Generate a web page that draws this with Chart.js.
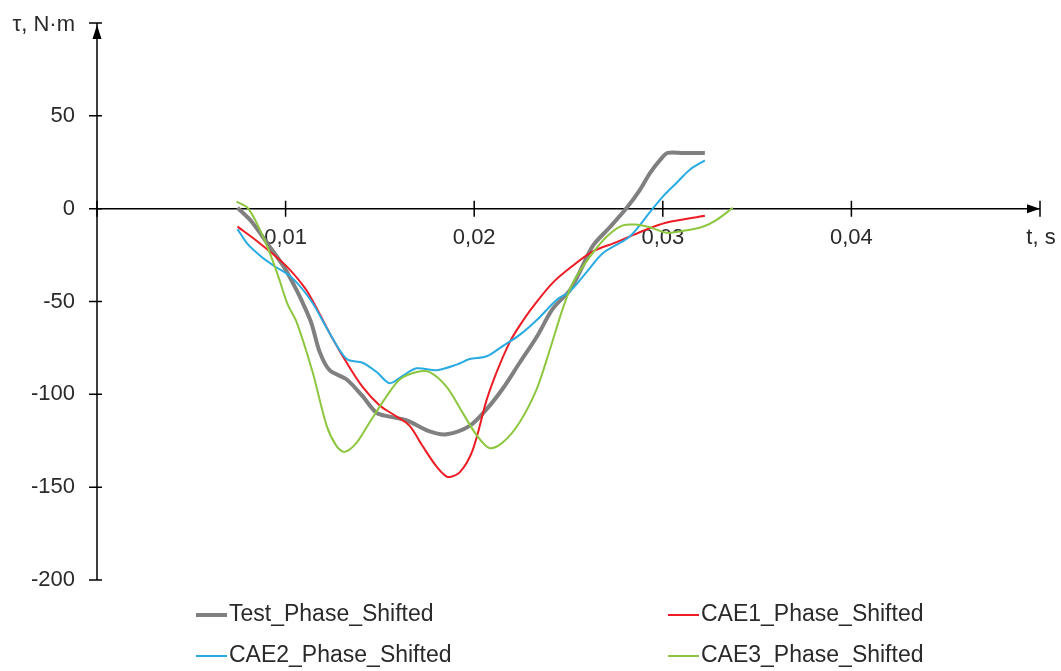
<!DOCTYPE html>
<html>
<head>
<meta charset="utf-8">
<script src="https://cdn.jsdelivr.net/npm/chart.js@4.4.1/dist/chart.umd.min.js"></script>
<style>
html,body{margin:0;padding:0;background:#fff;}
canvas{display:block;}
</style>
</head>
<body>
<canvas id="c" width="1061" height="671"></canvas>
<script>
// ---- data (time in s, torque in N·m) ----
const testT = [0.00745,0.00820,0.00905,0.00995,0.01064,0.01101,0.01138,0.01180,0.01233,0.01324,0.01408,0.01483,0.01552,0.01642,0.01764,0.01854,0.01976,0.02066,0.02151,0.02241,0.02332,0.02416,0.02507,0.02560,0.02629,0.02719,0.02809,0.02878,0.02931,0.02984,0.03026,0.03106,0.03223];
const testV = [0.5,-7,-19,-32,-45,-53,-62,-77,-87,-92,-101,-110,-112,-114,-120,-121.5,-117,-108,-97,-83,-69,-54,-44,-34,-20,-10,0.5,10,19,26,30,30,30];

const cae1T = [0.00745,0.00851,0.00995,0.01101,0.01154,0.01249,0.01324,0.01408,0.01499,0.01589,0.01658,0.01727,0.01801,0.01859,0.01923,0.01992,0.02066,0.02119,0.02188,0.02241,0.02310,0.02416,0.02507,0.02629,0.02756,0.02894,0.03021,0.03223];
const cae1V = [-9.7,-17.7,-30,-42.5,-51.6,-70,-83,-96,-106,-112,-117,-128,-139,-144.5,-142,-130,-103,-88,-72,-63,-53,-40,-32,-23,-18,-12,-7.5,-3.8];

const cae2T = [0.00745,0.00798,0.00873,0.00942,0.01032,0.01138,0.01233,0.01324,0.01408,0.01483,0.01552,0.01621,0.01695,0.01801,0.01907,0.01976,0.02066,0.02151,0.02241,0.02332,0.02438,0.02507,0.02597,0.02682,0.02825,0.02931,0.03000,0.03074,0.03143,0.03223];
const cae2V = [-11,-19,-26,-31,-37,-50,-67,-81,-83,-88,-94,-90,-86,-87,-84,-81,-79.5,-74,-68,-60,-49,-44.6,-34,-24,-15,-2,6.5,14,21,26];

const cae3T = [0.00740,0.00798,0.00851,0.00905,0.00958,0.01011,0.01058,0.01143,0.01218,0.01271,0.01313,0.01377,0.01446,0.01536,0.01605,0.01695,0.01764,0.01854,0.01939,0.02013,0.02082,0.02151,0.02241,0.02332,0.02401,0.02469,0.02523,0.02613,0.02703,0.02788,0.02862,0.02931,0.03021,0.03106,0.03212,0.03286,0.03371];
const cae3V = [3.8,0.5,-8.6,-21,-35.5,-51.6,-61,-88,-117,-128,-131,-126,-115,-101,-92,-88,-88,-96,-110,-122,-129,-126,-115,-97,-76,-54,-40,-26,-15,-9,-8.6,-10,-13,-12,-9.7,-6,0.5];

const seriesNames = ['Test_Phase_Shifted','CAE1_Phase_Shifted','CAE2_Phase_Shifted','CAE3_Phase_Shifted'];
const seriesColors = ['#808080','#ed1c24','#29abe2','#8dc63f'];
const seriesWidths = [4,2,2,2];

const xTicks = [0, 0.01, 0.02, 0.03, 0.04, 0.05];
const xTickLabels = ['', '0,01', '0,02', '0,03', '0,04', 't, s'];
const yTicks = [100, 50, 0, -50, -100, -150, -200];
const yTickLabels = ['τ, N·m', '50', '0', '-50', '-100', '-150', '-200'];

function pts(t, v){ return t.map((x,i)=>({x:x, y:v[i]})); }
const allT = [testT, cae1T, cae2T, cae3T];
const allV = [testV, cae1V, cae2V, cae3V];

const FONT = '"Liberation Sans", Arial, sans-serif';

const axesPlugin = {
  id: 'axesPlugin',
  beforeDatasetsDraw(chart){
    const ctx = chart.ctx, xs = chart.scales.x, ys = chart.scales.y;
    const x0 = xs.getPixelForValue(0), y0 = ys.getPixelForValue(0);
    const xEnd = xs.getPixelForValue(0.05);
    const yTop = ys.getPixelForValue(100), yBot = ys.getPixelForValue(-200);
    ctx.save();
    ctx.strokeStyle = '#000'; ctx.fillStyle = '#000'; ctx.lineWidth = 1.5;
    ctx.beginPath();
    ctx.moveTo(x0, yTop); ctx.lineTo(x0, yBot);
    ctx.moveTo(x0, y0); ctx.lineTo(xEnd, y0);
    ctx.stroke();
    ctx.beginPath();
    yTicks.forEach(v=>{ const y = ys.getPixelForValue(v); ctx.moveTo(x0-8, y); ctx.lineTo(x0+5, y); });
    xTicks.forEach(v=>{ const x = xs.getPixelForValue(v); ctx.moveTo(x, y0-8); ctx.lineTo(x, y0+8); });
    ctx.stroke();
    ctx.beginPath();
    ctx.moveTo(x0, yTop+2); ctx.lineTo(x0-4.5, yTop+16); ctx.lineTo(x0+4.5, yTop+16); ctx.closePath(); ctx.fill();
    ctx.beginPath();
    ctx.moveTo(xEnd, y0); ctx.lineTo(xEnd-13, y0-4.5); ctx.lineTo(xEnd-13, y0+4.5); ctx.closePath(); ctx.fill();
    ctx.fillStyle = '#2a2a2a';
    ctx.font = '22px ' + FONT;
    ctx.textAlign = 'right'; ctx.textBaseline = 'middle';
    yTicks.forEach((v,i)=>{
      let y = ys.getPixelForValue(v);
      if (i === 0) y += 2;
      ctx.fillText(yTickLabels[i], x0-22, y);
    });
    ctx.textAlign = 'center';
    xTicks.forEach((v,i)=>{
      if(!xTickLabels[i]) return;
      let x = xs.getPixelForValue(v);
      if (i === xTicks.length-1) x += 1;
      ctx.fillText(xTickLabels[i], x, y0+29);
    });
    ctx.restore();
  },
  afterDraw(chart){
    const ctx = chart.ctx;
    const cols = [196, 668], rows = [615, 656];
    ctx.save();
    ctx.font = '23px ' + FONT;
    ctx.textAlign = 'left'; ctx.textBaseline = 'middle';
    chart.data.datasets.forEach((ds,i)=>{
      const cx = cols[i%2], cy = rows[Math.floor(i/2)];
      ctx.strokeStyle = ds.borderColor; ctx.lineWidth = ds.borderWidth;
      ctx.beginPath(); ctx.moveTo(cx, cy); ctx.lineTo(cx+31, cy); ctx.stroke();
      ctx.fillStyle = '#2a2a2a';
      ctx.fillText(ds.label, cx+33, cy);
    });
    ctx.restore();
  }
};

new Chart(document.getElementById('c'), {
  type: 'line',
  data: {
    datasets: seriesNames.map((n,i)=>({
      label: n,
      data: pts(allT[i], allV[i]),
      borderColor: seriesColors[i],
      backgroundColor: seriesColors[i],
      borderWidth: seriesWidths[i],
      pointRadius: 0,
      tension: 0.3,
      fill: false,
      order: 4 - i
    }))
  },
  options: {
    responsive: false,
    animation: false,
    devicePixelRatio: 1,
    layout: { padding: { left: 97, right: 21, top: 23, bottom: 91 } },
    plugins: { legend: { display: false }, tooltip: { enabled: false } },
    scales: {
      x: { type: 'linear', min: 0, max: 0.05, display: false },
      y: { type: 'linear', min: -200, max: 100, display: false }
    }
  },
  plugins: [axesPlugin]
});
</script>
</body>
</html>
